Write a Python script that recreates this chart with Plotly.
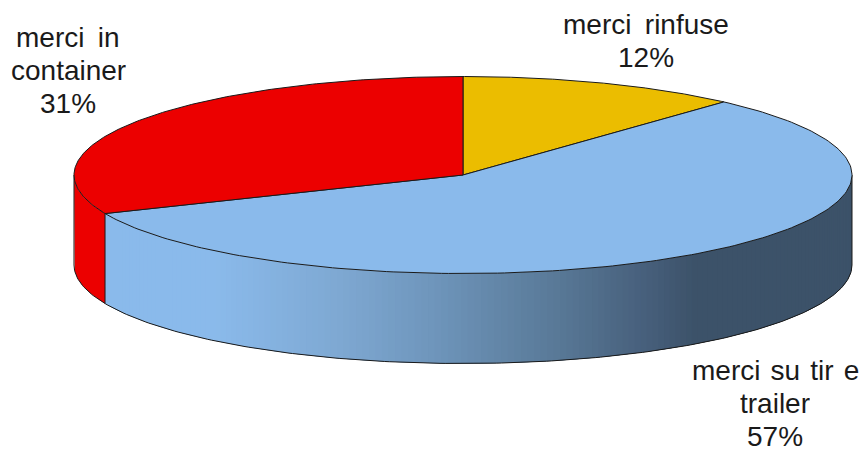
import numpy as np
import plotly.graph_objects as go

# Data
categories = ["merci rinfuse", "merci su tir e trailer", "merci in container"]
SP = " \u2009"
TIGHT = " \u200a"
label_lines = [["merci" + SP + "rinfuse"],
               ["merci" + TIGHT + "su" + TIGHT + "tir" + TIGHT + "e", "trailer"],
               ["merci" + SP + "in", "container"]]
values = [11.7, 56.9, 31.4]
colors = ["#EBBD00", "#8ABAEB", "#EC0000"]
shown_percent = [round(v) for v in values]

# Geometry of the drawing (pixels of the page)
W, H = 862, 449
CX, CY, RX, RY, DEPTH = 463, 175, 389, 98.5, 90
LABEL_POS = [(646, 24), (775, 370), (68, 37)]
LINE_STEP = 33
GRADIENT = [(105, "#8ABAEB"), (215, "#8ABAEB"), (340, "#7EA8D2"),
            (430, "#6F96BC"), (560, "#587896"), (650, "#465E7A"),
            (695, "#3C5269"), (852, "#3C5269")]
OUTLINE = "#1a1a1a"


def pt(deg):
    a = np.radians(deg)
    return CX + RX * np.sin(a), CY - RY * np.cos(a)


def hex2rgb(h):
    return np.array([int(h[i:i + 2], 16) for i in (1, 3, 5)], dtype=float)


def grad(x):
    xs = [g[0] for g in GRADIENT]
    cs = np.array([hex2rgb(g[1]) for g in GRADIENT])
    r = [np.interp(x, xs, cs[:, k]) for k in range(3)]
    return "rgb(%d,%d,%d)" % tuple(int(round(v)) for v in r)


fig = go.Figure()
edges = np.concatenate([[0], np.cumsum(values)]) * 3.6


def poly(x, y, fill, line=None, width=1):
    fig.add_trace(go.Scatter(x=list(x), y=list(y), mode="lines", fill="toself",
                             fillcolor=fill, hoverinfo="skip", showlegend=False,
                             line=dict(color=line or fill, width=width)))


# Side wall, only the front half of the ellipse is visible
boundary = edges[2]
# blue wall: overlapping strips painted left to right for the horizontal gradient
strip_edges = np.linspace(boundary, 90, 161)
for k, a0 in enumerate(strip_edges[:-1]):
    arc = np.linspace(a0, strip_edges[min(k + 3, 160)], 6)
    ax, ay = pt(arc)
    poly(np.r_[ax, ax[::-1], ax[0]], np.r_[ay, ay[::-1] + DEPTH, ay[0]],
         grad((ax[0] + pt(strip_edges[k + 1])[0]) / 2), width=0)
# red wall
arc = np.linspace(boundary, 270, 40)
ax, ay = pt(arc)
poly(np.r_[ax, ax[::-1], ax[0]], np.r_[ay, ay[::-1] + DEPTH, ay[0]], colors[2], width=0)

# Wall outlines
arc = np.linspace(90, 270, 240)
ax, ay = pt(arc)
fig.add_trace(go.Scatter(x=ax, y=ay + DEPTH, mode="lines", hoverinfo="skip", showlegend=False,
                         line=dict(color=OUTLINE, width=1)))
for deg in (90, boundary, 270):
    x0, y0 = pt(deg)
    fig.add_trace(go.Scatter(x=[x0, x0], y=[y0, y0 + DEPTH], mode="lines", hoverinfo="skip",
                             showlegend=False, line=dict(color=OUTLINE, width=1)))

# Top face wedges
for i in range(3):
    arc = np.linspace(edges[i], edges[i + 1], 200)
    ax, ay = pt(arc)
    poly(np.r_[CX, ax, CX], np.r_[CY, ay, CY], colors[i], line=OUTLINE, width=1)

# Labels: each line placed on its own to keep the tight line spacing
annotations = []
for (x, y), lines, pct in zip(LABEL_POS, label_lines, shown_percent):
    for j, txt in enumerate(lines + [f"{pct}%"]):
        annotations.append(dict(x=x, y=y + j * LINE_STEP, xref="x", yref="y", showarrow=False,
                                text=txt, xanchor="center", yanchor="middle", height=25,
                                font=dict(family="Liberation Sans", size=28, color="#1a1a1a")))

fig.update_layout(width=W, height=H, margin=dict(l=0, r=0, t=0, b=0),
                  paper_bgcolor="white", plot_bgcolor="white", showlegend=False,
                  annotations=annotations,
                  xaxis=dict(range=[0, W], visible=False, fixedrange=True),
                  yaxis=dict(range=[H, 0], visible=False, fixedrange=True))
fig.write_html("out.html", config={"displayModeBar": False},
               post_script="document.body.style.margin='0';document.documentElement.style.overflow='hidden';")
